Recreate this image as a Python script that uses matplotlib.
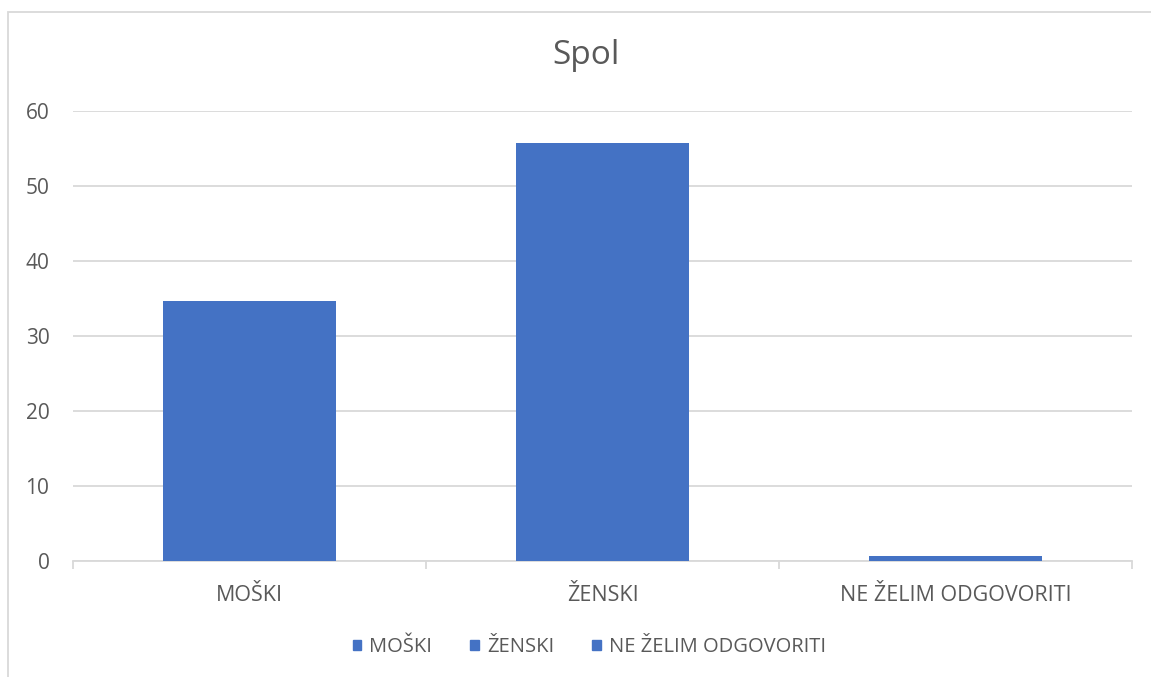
import matplotlib.pyplot as plt
from matplotlib.patches import Rectangle

# data
categories = ['MOŠKI', 'ŽENSKI', 'NE ŽELIM ODGOVORITI']
values = [34.7, 55.7, 0.7]
yticks = [0, 10, 20, 30, 40, 50, 60]

blue = '#4472C4'
txt = '#595959'
grid = '#D9D9D9'

plt.rcParams['font.family'] = ['Open Sans', 'DejaVu Sans']

W, H = 1151, 677
fig = plt.figure(figsize=(W / 100, H / 100), dpi=100)
ax = fig.add_axes([73 / W, 1 - 561 / H, (1132 - 73) / W, (561 - 111) / H])

# chart frame (only left and top edges visible in the crop)
fig.patches.append(Rectangle((8 / W, -0.1), 1.2, 1 - 12 / H + 0.1,
                             transform=fig.transFigure, fill=False,
                             edgecolor=grid, lw=1.3))

x = range(len(categories))
bars = ax.bar(x, values, width=0.49, color=blue, zorder=3)

ax.set_xlim(-0.5, 2.5)
ax.set_ylim(0, 60)
ax.set_yticks(yticks)
ax.yaxis.grid(True, color=grid, lw=1.3)
ax.set_axisbelow(True)
for s in ['top', 'right', 'left']:
    ax.spines[s].set_visible(False)
ax.spines['bottom'].set_color(grid)
ax.spines['bottom'].set_linewidth(1.3)

ax.set_xticks([-0.5, 0.5, 1.5, 2.5], minor=False)
ax.set_xticklabels([])
ax.set_xticks(list(x), minor=True)
ax.set_xticklabels(categories, minor=True)
ax.tick_params(axis='x', which='major', length=6, color=grid, width=1.3)
ax.tick_params(axis='x', which='minor', length=0, pad=17, labelsize=15.5, labelcolor=txt)
ax.tick_params(axis='y', length=0, pad=17, labelsize=15, labelcolor=txt)

fig.text(0.509, 1 - 56 / H, 'Spol', ha='center', va='center', fontsize=24, color=txt)

handles = [Rectangle((0, 0), 1, 1, color=blue) for _ in categories]
leg = fig.legend(handles, categories, loc='center', bbox_to_anchor=(0.512, 1 - 647 / H),
                 ncol=3, frameon=False, fontsize=14.5, handlelength=0.42, handleheight=0.42,
                 handletextpad=0.4, columnspacing=1.9, labelcolor=txt)

fig.savefig('out.png', dpi=100)
